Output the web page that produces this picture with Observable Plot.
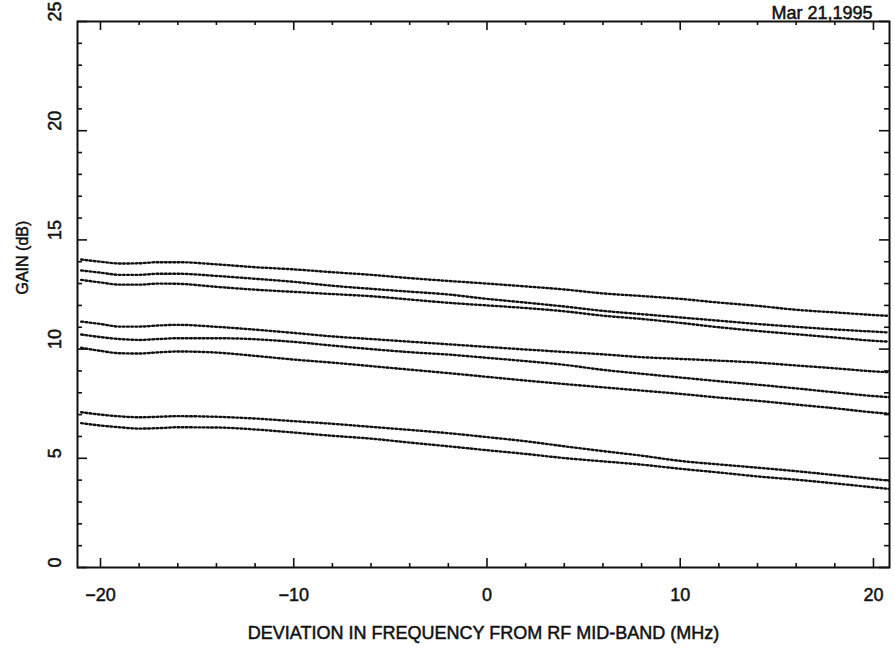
<!DOCTYPE html>
<html>
<head>
<meta charset="utf-8">
<script src="https://cdn.jsdelivr.net/npm/d3@7"></script>
<script src="https://cdn.jsdelivr.net/npm/@observablehq/plot@0.6"></script>
<style>
  html, body { margin: 0; padding: 0; background: #fff; }
  #chart svg { display: block; }
</style>
</head>
<body>
<div id="chart"></div>
<script>
// Frequency deviation (MHz) sample points
const freq = [-21,-20,-19,-18,-17,-16,-14,-12,-10,-8,-6,-4,-2,0,2,4,6,8,10,12,14,16,18,20,20.8];

// Gain curves (dB), top to bottom
const gain1 = [14.1,14.0,13.92,13.93,13.98,13.98,13.88,13.75,13.65,13.52,13.4,13.25,13.12,13.0,12.87,12.73,12.55,12.43,12.3,12.13,11.98,11.8,11.68,11.56,11.52];
const gain2 = [13.6,13.5,13.4,13.4,13.45,13.45,13.35,13.22,13.08,12.9,12.76,12.63,12.5,12.3,12.13,11.95,11.75,11.6,11.45,11.3,11.15,11.02,10.9,10.8,10.76];
const gain3 = [13.17,13.05,12.95,12.95,13.0,12.99,12.85,12.72,12.62,12.52,12.42,12.27,12.12,12.0,11.88,11.73,11.53,11.38,11.2,11.0,10.83,10.68,10.53,10.38,10.34];
const gain4 = [11.26,11.15,11.03,11.03,11.08,11.11,11.02,10.89,10.74,10.58,10.46,10.34,10.22,10.1,9.98,9.87,9.76,9.63,9.55,9.47,9.38,9.25,9.12,8.98,8.94];
const gain5 = [10.67,10.55,10.46,10.42,10.46,10.5,10.5,10.45,10.33,10.16,10.0,9.86,9.75,9.6,9.45,9.28,9.05,8.87,8.7,8.53,8.37,8.2,8.02,7.85,7.8];
const gain6 = [10.06,9.92,9.81,9.8,9.85,9.89,9.84,9.69,9.52,9.38,9.22,9.06,8.9,8.73,8.56,8.4,8.25,8.1,7.95,7.78,7.63,7.46,7.29,7.1,7.04];
const gain7 = [7.11,7.0,6.92,6.88,6.9,6.93,6.9,6.82,6.7,6.58,6.44,6.3,6.15,5.97,5.78,5.55,5.33,5.12,4.88,4.72,4.57,4.41,4.23,4.05,3.98];
const gain8 = [6.61,6.5,6.42,6.36,6.38,6.42,6.41,6.32,6.18,6.03,5.9,5.72,5.55,5.37,5.2,5.01,4.86,4.71,4.52,4.35,4.17,4.02,3.85,3.67,3.6];

// Ticks and labels
const xMajor = [-20,-10,0,10,20];
const xMajorLabels = ["\u221220","\u221210","0","10","20"];
const xMinor = [-18,-16,-14,-12,-8,-6,-4,-2,2,4,6,8,12,14,16,18];
const yMajor = [0,5,10,15,20,25];
const yMajorLabels = ["0","5","10","15","20","25"];
const yMinor = [1,2,3,4,6,7,8,9,11,12,13,14,16,17,18,19,21,22,23,24];

const titleText = "Mar 21,1995";
const xTitle = "DEVIATION IN FREQUENCY FROM RF MID-BAND (MHz)";
const yTitle = "GAIN (dB)";

const series = [gain1,gain2,gain3,gain4,gain5,gain6,gain7,gain8];
const rows = [];
series.forEach((s, si) => s.forEach((g, i) => rows.push({f: freq[i], g, s: si})));

const ink = "#111";
const font = "'Liberation Sans', Arial, Helvetica, sans-serif";
const textInk = {fill: ink, stroke: ink, strokeWidth: 0.5};

const W = 895, H = 650, mL = 77, mR = 6, mT = 21, mB = 83;
const frameW = W - mL - mR, frameH = H - mT - mB;

// inward ticks drawn as rules inset to a short length from one frame edge
const xTicks = (values, len, side) => Plot.ruleX(values, {
  x: d => d, stroke: ink, strokeWidth: 1.6,
  ...(side === "bottom" ? {insetTop: frameH - len} : {insetBottom: frameH - len})
});
const yTicks = (values, len, side) => Plot.ruleY(values, {
  y: d => d, stroke: ink, strokeWidth: 1.6,
  ...(side === "left" ? {insetRight: frameW - len} : {insetLeft: frameW - len})
});

const chart = Plot.plot({
  width: W,
  height: H,
  marginLeft: mL,
  marginRight: mR,
  marginTop: mT,
  marginBottom: mB,
  style: {fontFamily: font, background: "#fff", color: ink},
  x: {domain: [-21.19, 20.83], axis: null},
  y: {domain: [0, 25], axis: null},
  marks: [
    Plot.line(rows, {x: "f", y: "g", z: "s", stroke: ink, strokeWidth: 2.4, strokeDasharray: "1.8,2.4", curve: "monotone-x"}),
    Plot.frame({stroke: ink, strokeWidth: 2}),
    xTicks(xMajor, 9, "bottom"),
    xTicks(xMinor, 4, "bottom"),
    xTicks(xMajor, 9, "top"),
    xTicks(xMinor, 4, "top"),
    yTicks(yMajor, 10, "left"),
    yTicks(yMinor, 5, "left"),
    yTicks(yMajor, 10, "right"),
    yTicks(yMinor, 5, "right"),
    // tick labels
    Plot.text(xMajor, {x: d => d, text: (d, i) => xMajorLabels[i], frameAnchor: "bottom", dy: 28, lineAnchor: "middle", fontSize: 18, letterSpacing: 2, ...textInk}),
    Plot.text(yMajor, {y: d => d, text: (d, i) => yMajorLabels[i], frameAnchor: "left", dx: -22, rotate: -90, lineAnchor: "middle", fontSize: 18, letterSpacing: 2, ...textInk}),
    // titles
    Plot.text([xTitle], {text: d => d, frameAnchor: "bottom", dy: 66, lineAnchor: "middle", fontSize: 18, letterSpacing: 2, ...textInk}),
    Plot.text([yTitle], {text: d => d, frameAnchor: "left", dx: -55, rotate: -90, lineAnchor: "middle", fontSize: 16, letterSpacing: 1, ...textInk}),
    Plot.text([titleText], {text: d => d, frameAnchor: "top-right", dx: -17, dy: -3, textAnchor: "end", lineAnchor: "bottom", fontSize: 18, letterSpacing: 3, ...textInk})
  ]
});
document.getElementById("chart").appendChild(chart);
</script>
</body>
</html>
